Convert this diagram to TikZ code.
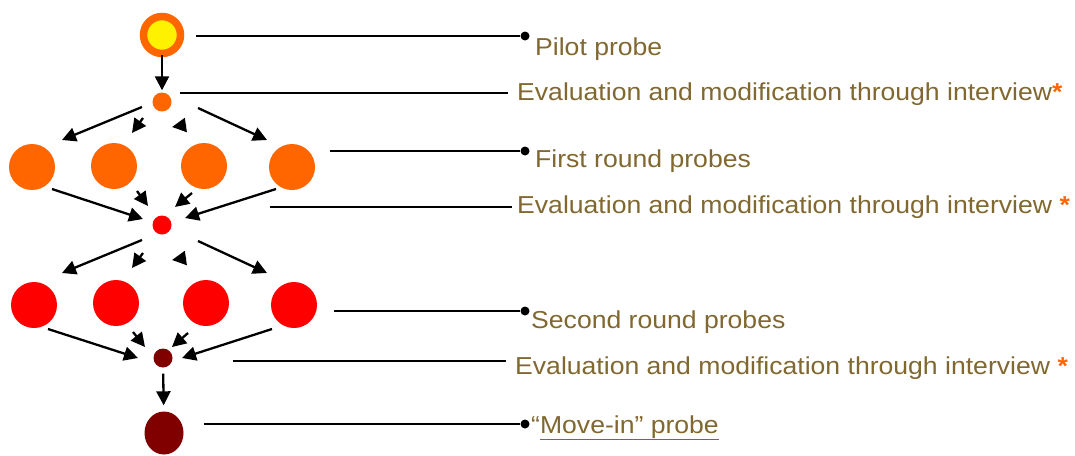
\documentclass[tikz,border=0pt]{standalone}
\usepackage{fontspec}
\setmainfont{Liberation Sans}[FakeStretch=1.085]
\usetikzlibrary{arrows.meta,shapes.geometric}
\definecolor{probeorange}{HTML}{FF6600}
\definecolor{probered}{HTML}{FF0000}
\definecolor{probedark}{HTML}{800000}
\definecolor{labelbrown}{RGB}{128,104,48}
\newcommand{\orangestar}{{\color{probeorange}\textbf{*}}}
\begin{document}
\begin{tikzpicture}[x=1pt,y=-1pt,
    probe/.style={circle, minimum size=46pt, inner sep=0pt},
    evalpt/.style={circle, minimum size=19pt, inner sep=0pt},
    arr/.style={-{Triangle[length=14pt,width=14pt]}, line width=2.3pt},
    lead/.style={line width=1.8pt},
    tipdot/.style={circle, fill=black, minimum size=9pt, inner sep=0pt},
    lbl/.style={anchor=base west, inner sep=0pt, text=labelbrown, font=\fontsize{24.5}{29}\selectfont}
]
    \useasboundingbox (0,0) rectangle (1075,455);

    % probes
    \node[circle, fill=yellow, draw=probeorange, line width=7.5pt, minimum size=37pt, inner sep=0pt] (pilot) at (162,35) {};
    \node[evalpt, fill=probeorange] (e1) at (162,102) {};
    \node[probe, fill=probeorange] (r1a) at (32,167) {};
    \node[probe, fill=probeorange] (r1b) at (114,166) {};
    \node[probe, fill=probeorange] (r1c) at (204,166) {};
    \node[probe, fill=probeorange] (r1d) at (292,167) {};
    \node[evalpt, fill=probered] (e2) at (162,225) {};
    \node[probe, fill=probered] (r2a) at (34,305) {};
    \node[probe, fill=probered] (r2b) at (116,303) {};
    \node[probe, fill=probered] (r2c) at (206,303) {};
    \node[probe, fill=probered] (r2d) at (294,305) {};
    \node[evalpt, fill=probedark] (e3) at (163,358) {};
    \node[ellipse, fill=probedark, minimum width=39pt, minimum height=43pt, inner sep=0pt] (movein) at (164,433) {};

    % flow
    \draw[arr, shorten <=-2pt, shorten >=2pt] (pilot) -- (e1);
    \draw[arr] ([shift={(-20,5)}]e1.center) -- ([shift={(30,-27)}]r1a.center);
    \draw[arr] ([shift={(-19,16)}]e1.center) -- ([shift={(18,-33)}]r1b.center);
    \draw[arr] ([shift={(-18,-41)}]r1c.center) -- ([shift={(-32,-39)}]r1c.center);
    \draw[arr] ([shift={(36,6)}]e1.center) -- ([shift={(-25,-27)}]r1d.center);

    \draw[arr] ([shift={(20,22)}]r1a.center) -- ([shift={(-19,-6)}]e2.center);
    \draw[arr] ([shift={(23,25)}]r1b.center) -- ([shift={(-14,-19)}]e2.center);
    \draw[arr] ([shift={(-12,27)}]r1c.center) -- ([shift={(13,-18)}]e2.center);
    \draw[arr] ([shift={(-16,22)}]r1d.center) -- ([shift={(23,-7)}]e2.center);

    \draw[arr] ([shift={(-20,15)}]e2.center) -- ([shift={(28,-32)}]r2a.center);
    \draw[arr] ([shift={(-19,28)}]e2.center) -- ([shift={(16,-35)}]r2b.center);
    \draw[arr] ([shift={(-20,-45)}]r2c.center) -- ([shift={(-34,-43)}]r2c.center);
    \draw[arr] ([shift={(36,16)}]e2.center) -- ([shift={(-27,-32)}]r2d.center);

    \draw[arr] ([shift={(14,24)}]r2a.center) -- ([shift={(-25,0)}]e3.center);
    \draw[arr] ([shift={(17,29)}]r2b.center) -- ([shift={(-18,-11)}]e3.center);
    \draw[arr] ([shift={(-18,30)}]r2c.center) -- ([shift={(9,-11)}]e3.center);
    \draw[arr] ([shift={(-22,24)}]r2d.center) -- ([shift={(19,0)}]e3.center);

    \draw[arr, shorten <=6pt, shorten >=6pt] (e3) -- (movein);

    % labels
    \node[tipdot] (d1) at (525,36) {};
    \node[lbl] (t1) at (535,55) {Pilot probe};
    \coordinate (c1) at (508,93);
    \node[lbl] (t2) at (517,100) {Evaluation and modification through interview\orangestar};
    \node[tipdot] (d3) at (525,151) {};
    \node[lbl] (t3) at (535,167) {First round probes};
    \coordinate (c4) at (512,207);
    \node[lbl] (t4) at (517,213) {Evaluation and modification through interview \orangestar};
    \node[tipdot] (d5) at (525,311) {};
    \node[lbl] (t5) at (531,328) {Second round probes};
    \coordinate (c6) at (506,361);
    \node[lbl] (t6) at (515,374) {Evaluation and modification through interview \orangestar};
    \node[tipdot] (d7) at (525,424) {};
    \node[lbl] (t7) at (531,433) {“\underline{Move-in” probe}};

    \coordinate (s1) at ([xshift=12pt]pilot.east);
    \coordinate (s2) at ([xshift=8pt]e1.east);
    \coordinate (s3) at ([xshift=15pt]r1d.east);
    \coordinate (s4) at ([xshift=98pt]e2.east);
    \coordinate (s5) at ([xshift=17pt]r2d.east);
    \coordinate (s6) at ([xshift=60pt]e3.east);
    \coordinate (s7) at ([xshift=20pt]movein.east);
    \draw[lead] (s1 |- d1) -- (d1);
    \draw[lead] (s2 |- c1) -- (c1);
    \draw[lead] (s3 |- d3) -- (d3);
    \draw[lead] (s4 |- c4) -- (c4);
    \draw[lead] (s5 |- d5) -- (d5);
    \draw[lead] (s6 |- c6) -- (c6);
    \draw[lead] (s7 |- d7) -- (d7);
\end{tikzpicture}
\end{document}
